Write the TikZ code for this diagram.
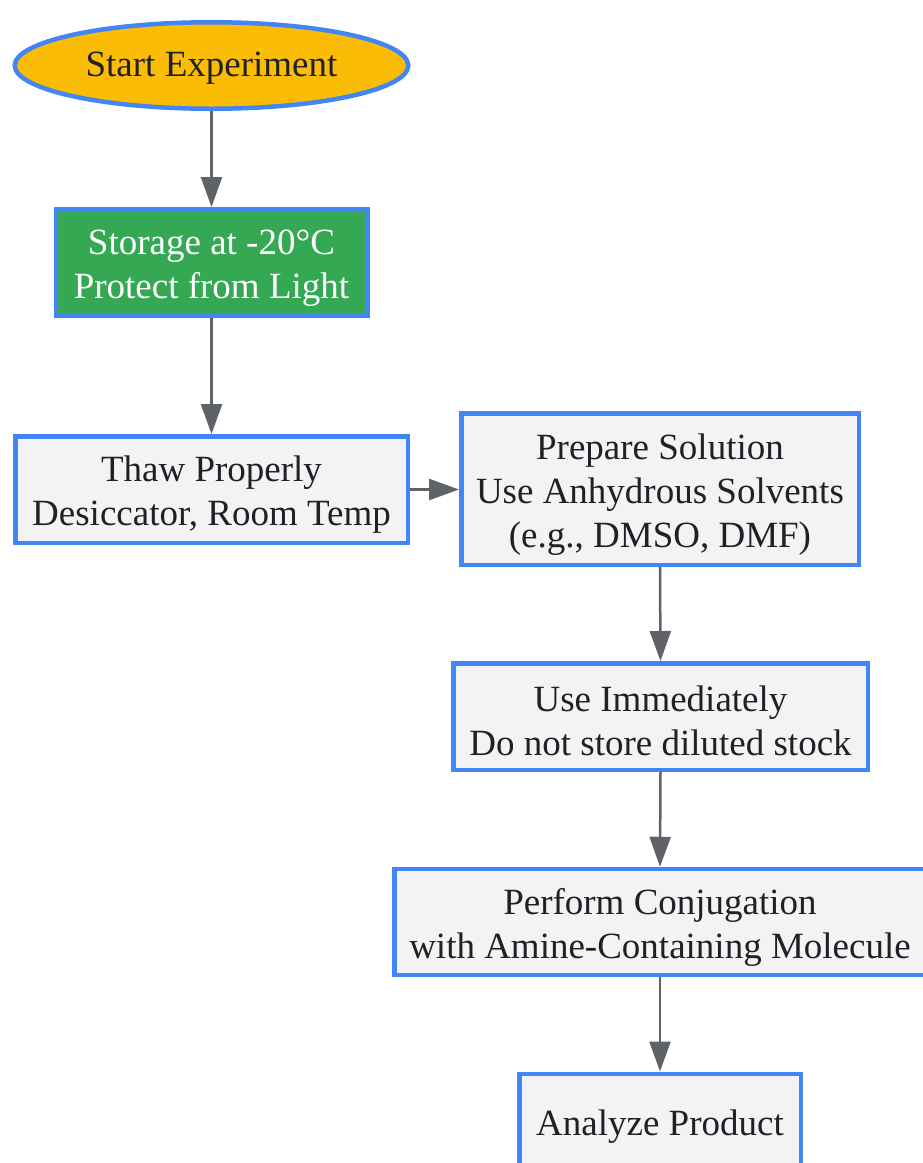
\documentclass[tikz,border=0pt]{standalone}
\usepackage{fontspec}
\setmainfont{Liberation Serif}
\usetikzlibrary{shapes.geometric,arrows.meta}
\definecolor{gblue}{HTML}{4285F4}
\definecolor{ggreen}{HTML}{34A853}
\definecolor{gyellow}{HTML}{FBBC05}
\definecolor{boxgray}{HTML}{F1F3F4}
\definecolor{agray}{HTML}{5F6368}
\definecolor{txt}{HTML}{202124}
\begin{document}
\begin{tikzpicture}[x=1pt,y=-1pt,
  base/.style={draw=gblue, line width=4.5pt, inner sep=0pt},
  box/.style={base, rectangle, fill=boxgray},
  lbl/.style={align=center, text=txt, inner sep=0pt, font=\fontsize{37}{44}\selectfont},
  arr/.style={draw=agray, line width=2.5pt, -{Triangle[length=30pt,width=21pt]}}]
\clip (0,0) rectangle (923,1163);
\useasboundingbox (0,0) rectangle (923,1163);
\node[base, ellipse, fill=gyellow, minimum width=393.5pt, minimum height=86.5pt] (start) at (211.5,65.5) {};
\node[box, fill=ggreen, minimum width=311.5pt, minimum height=106.5pt] (storage) at (211.5,262.5) {};
\node[box, minimum width=392.5pt, minimum height=106.5pt] (thaw) at (211.5,489.5) {};
\node[box, minimum width=397.5pt, minimum height=151.5pt] (prep) at (660,489) {};
\node[box, minimum width=414.5pt, minimum height=106.5pt] (use) at (660.5,716.5) {};
\node[box, minimum width=531.5pt, minimum height=106pt] (perf) at (660,922) {};
\node[box, minimum width=281.5pt, minimum height=106.5pt] (anal) at (660,1127) {};
\node[lbl] (start-t) at ([yshift=-3pt]start.center) {Start Experiment};
\node[lbl, text=white] (storage-t) at ([yshift=-5.5pt]storage.center) {Storage at -20°C\\Protect from Light};
\node[lbl] (thaw-t) at ([yshift=-5pt]thaw.center) {Thaw Properly\\Desiccator, Room Temp};
\node[lbl] (prep-t) at ([yshift=-5.5pt]prep.center) {Prepare Solution\\Use Anhydrous Solvents\\(e.g., DMSO, DMF)};
\node[lbl] (use-t) at ([yshift=-4pt]use.center) {Use Immediately\\Do not store diluted stock};
\node[lbl] (perf-t) at ([yshift=-5.5pt]perf.center) {Perform Conjugation\\with Amine-Containing Molecule};
\node[lbl] (anal-t) at (anal.center) {Analyze Product};
\draw[arr] (start.south) -- (storage.north);
\draw[arr] (storage.south) -- (thaw.north);
\draw[arr] (thaw.east) -- (thaw.east -| prep.west);
\draw[arr] (prep.south) -- (use.north);
\draw[arr] (use.south) -- (perf.north);
\draw[arr] (perf.south) -- (anal.north);
\end{tikzpicture}
\end{document}
